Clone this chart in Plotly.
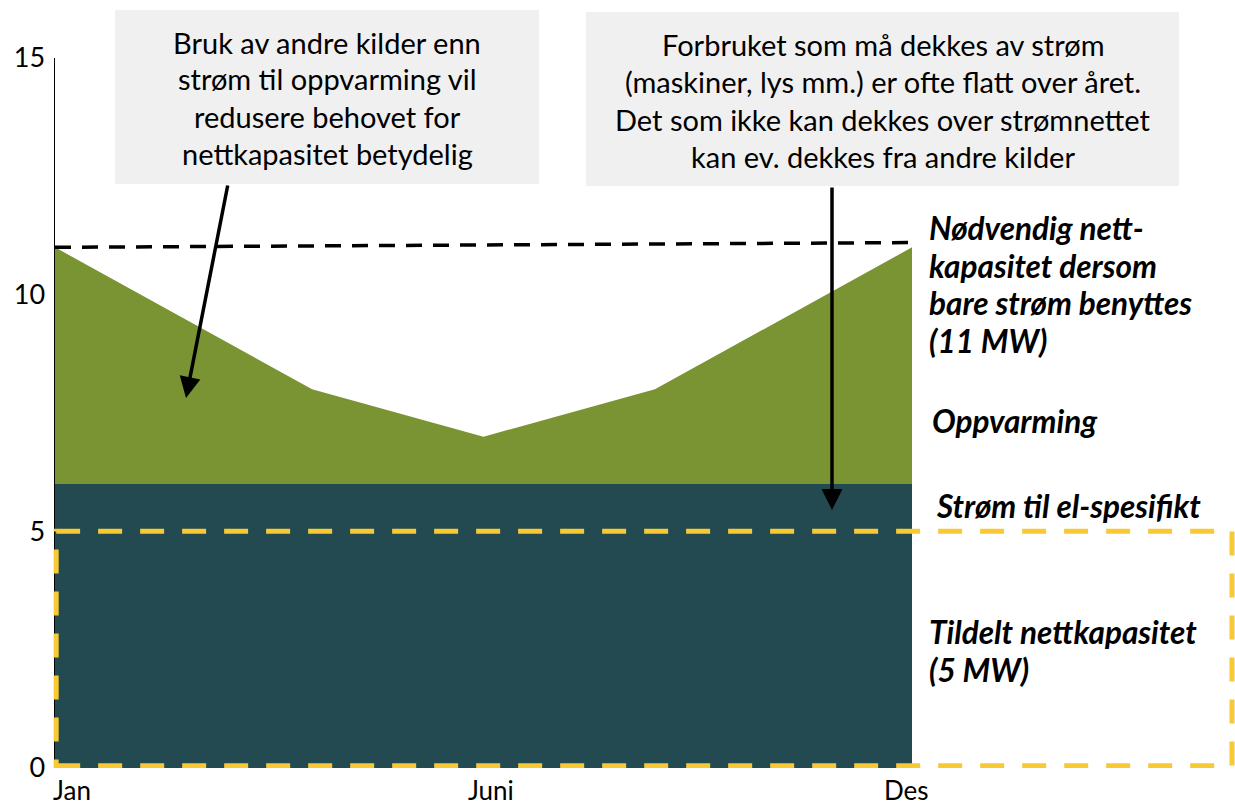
import plotly.graph_objects as go

# ---------------- data ----------------
month_labels = ["Jan", "Juni", "Des"]
month_pos = [0, 5, 10]
x_points = [0, 3, 5, 7, 10]
heating_total = [11, 8, 7, 8, 11]      # top of "Oppvarming" area
el_specific = [6, 6, 6, 6, 6]          # "Strøm til el-spesifikt"
required_x = [0, 10]
required_y = [11, 11.1]                # "Nødvendig nettkapasitet" (11 MW)
allocated = 5                          # "Tildelt nettkapasitet" (5 MW)
y_ticks = [0, 5, 10, 15]

box1_lines = ["Bruk av andre kilder enn", "strøm til oppvarming vil",
              "redusere behovet for", "nettkapasitet betydelig"]
box2_lines = ["Forbruket som må dekkes av strøm",
              "(maskiner, lys mm.) er ofte flatt over året.",
              "Det som ikke kan dekkes over strømnettet",
              "kan ev. dekkes fra andre kilder"]

GREEN = "#7A9433"
TEAL = "#224A50"
YELLOW = "#F8C933"
FONT = "Lato"

W, H = 1235, 810
ML, MT = 55, 58
PW = W - ML
PH = 710
MB = H - MT - PH
px_per_x = 857 / 10
x_max = PW / px_per_x

def px(xs):   # screen pixel x -> paper
    return (xs - ML) / PW

def py(ys):   # screen pixel y -> paper
    return (MT + PH - ys) / PH

fig = go.Figure()
fig.add_trace(go.Scatter(x=x_points, y=el_specific, mode="lines",
                         line=dict(width=0, color=TEAL), fill="tozeroy",
                         fillcolor=TEAL, hoverinfo="skip", showlegend=False))
fig.add_trace(go.Scatter(x=x_points, y=heating_total, mode="lines",
                         line=dict(width=0, color=GREEN), fill="tonexty",
                         fillcolor=GREEN, hoverinfo="skip", showlegend=False))
fig.add_trace(go.Scatter(x=required_x, y=required_y, mode="lines",
                         line=dict(width=3.5, color="black", dash="16px,11px"),
                         hoverinfo="skip", showlegend=False))

shapes = []
shapes.append(dict(type="rect", xref="paper", yref="y", x0=0.001, x1=px(1232),
                   y0=0.05, y1=allocated, line=dict(color=YELLOW, width=5, dash="24px,18px"),
                   fillcolor="rgba(0,0,0,0)", layer="above"))
shapes.append(dict(type="rect", xref="paper", yref="paper", x0=px(115), x1=px(539),
                   y0=py(184), y1=py(10), line=dict(width=0), fillcolor="#F0F0F0", layer="below"))
shapes.append(dict(type="rect", xref="paper", yref="paper", x0=px(586), x1=px(1179),
                   y0=py(186), y1=py(12), line=dict(width=0), fillcolor="#F0F0F0", layer="below"))

annotations = []
for i, t in enumerate(box1_lines):
    annotations.append(dict(text=t, xref="paper", yref="paper", x=px(327), y=py(42 + i * 37),
                            xanchor="center", yanchor="middle", showarrow=False,
                            font=dict(family=FONT, size=29, color="black")))
for i, t in enumerate(box2_lines):
    annotations.append(dict(text=t, xref="paper", yref="paper", x=px(883), y=py(44 + i * 37.5),
                            xanchor="center", yanchor="middle", showarrow=False,
                            font=dict(family=FONT, size=29, color="black")))

right_labels = [
    (["Nødvendig nett-", "kapasitet dersom", "bare strøm benyttes", "(11 MW)"], 228, 927),
    (["Oppvarming"], 421, 930),
    (["Strøm til el-spesifikt"], 506, 934),
    (["Tildelt nettkapasitet", "(5 MW)"], 632, 927),
]
for lines, y0, x0 in right_labels:
    for i, t in enumerate(lines):
        annotations.append(dict(text="<b><i>" + t + "</i></b>", xref="paper", yref="paper",
                                x=px(x0), y=py(y0 + i * 37.7), xanchor="left", yanchor="middle",
                                showarrow=False, font=dict(family=FONT, size=31.5, color="black")))

label_shift = [17, 7, -6]
for lab, pos, sh in zip(month_labels, month_pos, label_shift):
    annotations.append(dict(text=lab, xref="x", yref="paper", x=pos, y=py(808),
                            xanchor="center", yanchor="bottom", xshift=sh, showarrow=False,
                            font=dict(family=FONT, size=26, color="black")))

ypp = PH / 15
annotations.append(dict(text="", xref="x", yref="y", x=(186 - 55) / px_per_x, y=(768 - 398) / ypp,
                        ax=42, ay=-214, showarrow=True, arrowhead=2, arrowsize=1.2,
                        arrowwidth=3.5, arrowcolor="black"))
annotations.append(dict(text="", xref="x", yref="y", x=(832 - 55) / px_per_x, y=(768 - 510) / ypp,
                        ax=0, ay=-324, showarrow=True, arrowhead=2, arrowsize=1.2,
                        arrowwidth=3.5, arrowcolor="black"))

fig.update_layout(
    width=W, height=H,
    margin=dict(l=ML, r=0, t=MT, b=MB, autoexpand=False),
    paper_bgcolor="white", plot_bgcolor="white",
    showlegend=False,
    shapes=shapes, annotations=annotations,
    xaxis=dict(range=[0, x_max], showgrid=False, zeroline=False, showticklabels=False,
               showline=False, fixedrange=True),
    yaxis=dict(range=[0, 15], tickvals=y_ticks, showgrid=False, zeroline=False,
               showline=True, linecolor="black", linewidth=1.5, ticks="",
               ticklabelstandoff=3, tickfont=dict(family=FONT, size=27, color="black"),
               fixedrange=True),
)

fig.write_html("out.html", config={"displayModeBar": False, "staticPlot": True},
               post_script="document.body.style.margin='0';document.body.style.overflow='hidden';")
